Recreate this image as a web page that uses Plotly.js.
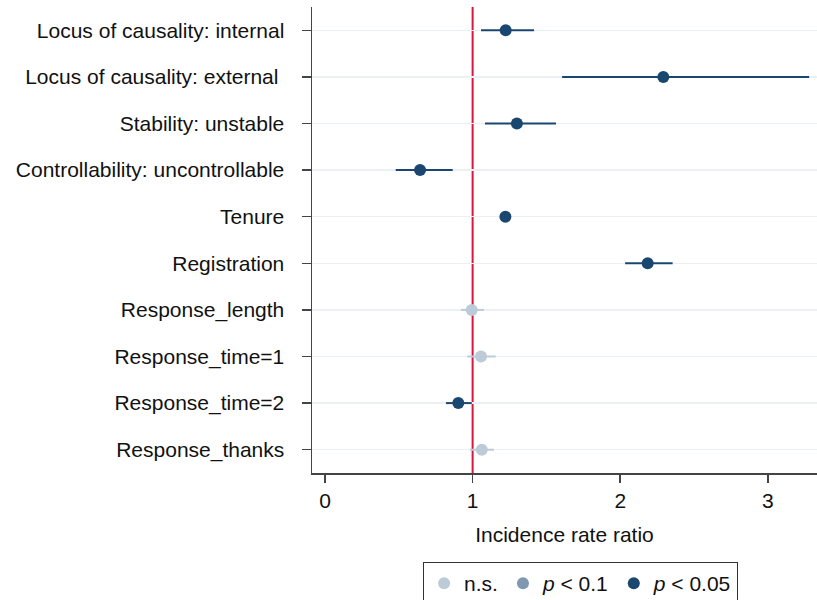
<!DOCTYPE html>
<html>
<head>
<meta charset="utf-8">
<script src="https://cdn.plot.ly/plotly-3.0.1.min.js"></script>
<style>html,body{margin:0;padding:0;background:#fff;}#chart{width:817px;height:600px;}</style>
</head>
<body>
<div id="chart"></div>
<script>
const labels = ["Locus of causality: internal", "Locus of causality: external ", "Stability: unstable",
  "Controllability: uncontrollable", "Tenure", "Registration", "Response_length",
  "Response_time=1", "Response_time=2", "Response_thanks"];
const irr    = [1.224, 2.292, 1.300, 0.644, 1.222, 2.186, 0.994, 1.057, 0.903, 1.062];
const ciLow  = [1.057, 1.606, 1.084, 0.479, 1.212, 2.033, 0.921, 0.964, 0.820, 0.982];
const ciHigh = [1.416, 3.280, 1.565, 0.865, 1.232, 2.355, 1.077, 1.156, 0.994, 1.145];
const sigGroup = ["p05", "p05", "p05", "p05", "p05", "p05", "ns", "ns", "p05", "ns"];
const groupKeys = ["ns", "p10", "p05"];
const groupNames = ["n.s.", "<i>p</i> &lt; 0.1", "<i>p</i> &lt; 0.05"];
const groupColors = ["#bccbd7", "#7e98b0", "#1a476f"];

const traces = groupKeys.map((g, gi) => {
  const idx = [];
  sigGroup.forEach((s, i) => { if (s === g) idx.push(i); });
  return {
    type: "scatter", mode: "markers", name: groupNames[gi],
    x: idx.length ? idx.map(i => irr[i]) : [null],
    y: idx.length ? idx.map(i => i) : [null],
    error_x: {type: "data", symmetric: false,
      array: idx.map(i => ciHigh[i] - irr[i]),
      arrayminus: idx.map(i => irr[i] - ciLow[i]),
      color: groupColors[gi], thickness: 2, width: 0},
    marker: {color: groupColors[gi], size: 12, symbol: "circle"},
    cliponaxis: true, hoverinfo: "x+y"
  };
});

const layout = {
  width: 817, height: 600,
  margin: {l: 312, r: 0, t: 7, b: 127, autoexpand: false},
  paper_bgcolor: "#fff", plot_bgcolor: "#fff",
  font: {family: "Liberation Sans, Arial, Helvetica, sans-serif", size: 21, color: "#111"},
  showlegend: true,
  legend: {orientation: "h", x: 0.22, xanchor: "left", y: -0.191, yanchor: "top",
    bordercolor: "#333", borderwidth: 1, bgcolor: "#fff",
    font: {size: 21, color: "#111"}, itemsizing: "constant"},
  xaxis: {range: [-0.088, 3.333], tickvals: [0, 1, 2, 3], ticktext: ["0", "1", "2", "3"],
    automargin: false,
    showgrid: false, zeroline: false, showline: true, linecolor: "#444", linewidth: 1.5,
    ticks: "outside", ticklen: 8, tickwidth: 1.5, tickcolor: "#444",
    title: {text: "Incidence rate ratio", standoff: 16, font: {size: 21}}},
  yaxis: {range: [9.5, -0.5], tickvals: labels.map((_, i) => i), ticktext: labels,
    automargin: false,
    showgrid: true, gridcolor: "#eaf0f3", gridwidth: 1.5, zeroline: false,
    showline: true, linecolor: "#444", linewidth: 1.5,
    ticks: "outside", ticklen: 9, tickwidth: 1.5, tickcolor: "#444", ticklabelstandoff: 13},
  shapes: [{type: "line", xref: "x", yref: "paper", x0: 1, x1: 1, y0: 0, y1: 1,
    line: {color: "#d9163f", width: 2}, layer: "below"}]
};

Plotly.newPlot("chart", traces, layout, {displayModeBar: false, staticPlot: true});
</script>
</body>
</html>
